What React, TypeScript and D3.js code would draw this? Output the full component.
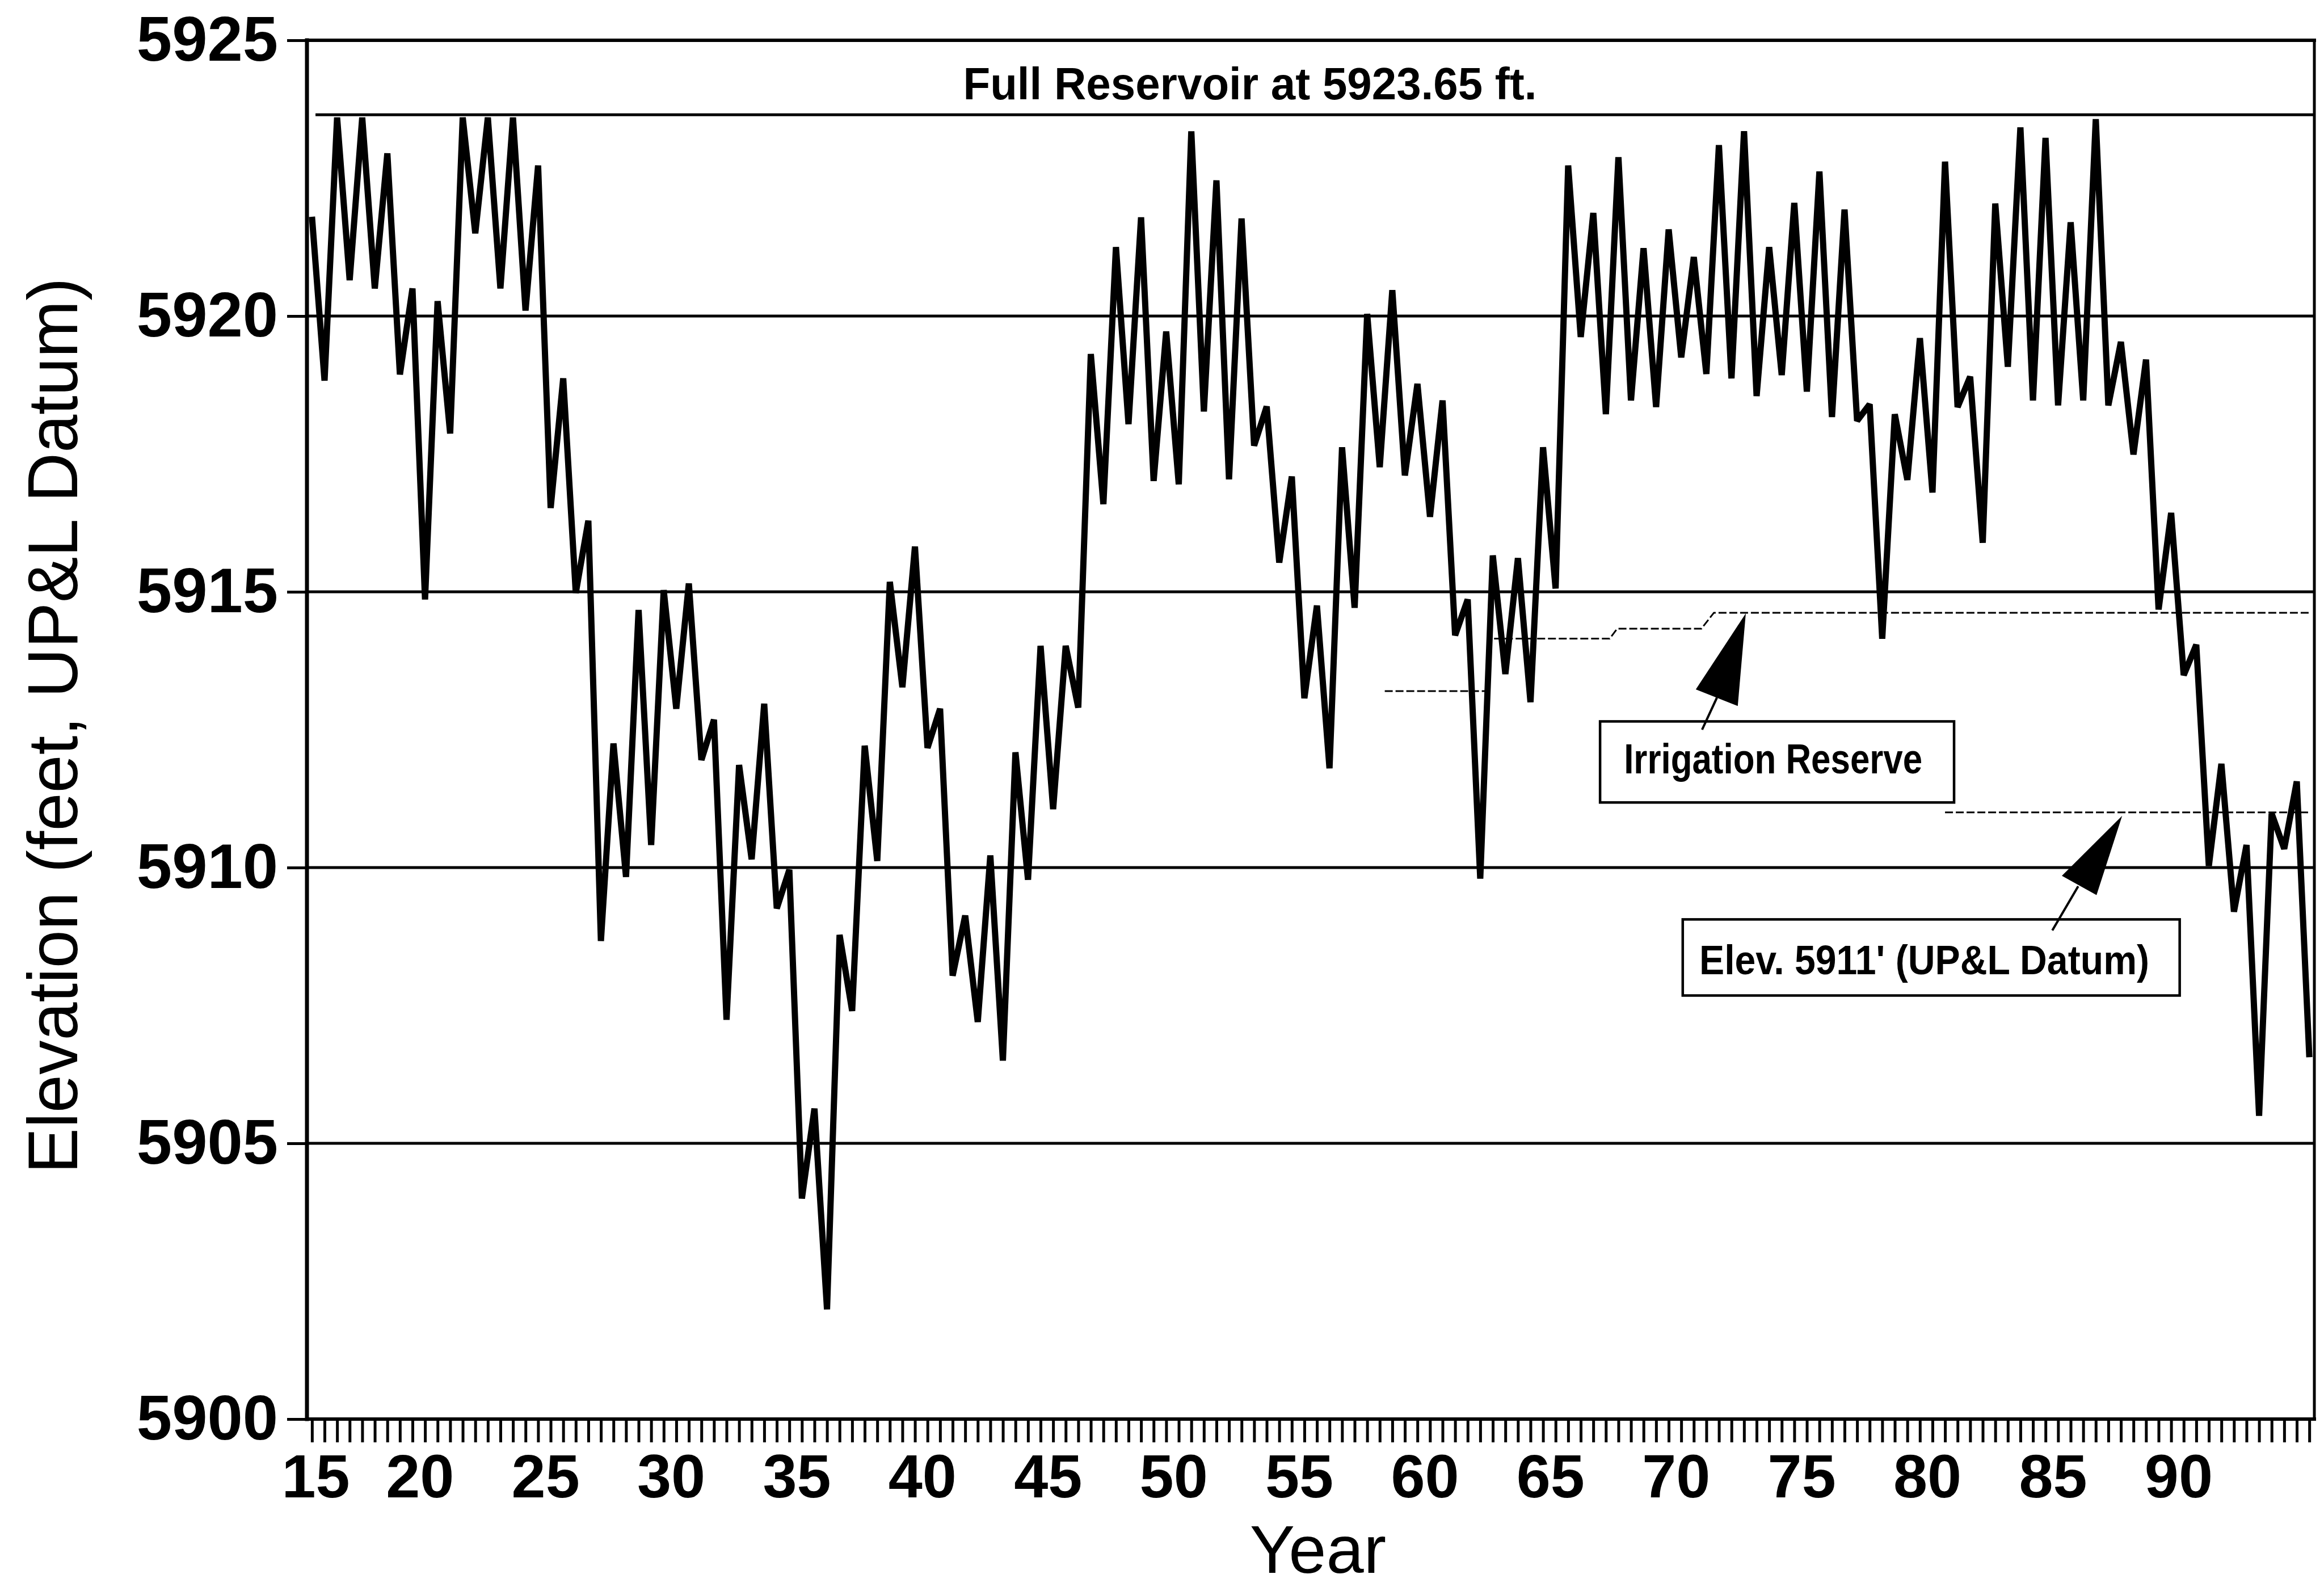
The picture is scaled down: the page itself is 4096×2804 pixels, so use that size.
import React, { useRef, useEffect } from "react";
import * as d3 from "d3";

// lake elevation, two readings a year (spring high / fall low), from 1915
const elevations = [
  5921.8, 5918.83, 5923.6, 5920.65, 5923.6, 5920.5, 5922.95, 5918.94, 5920.5, 5914.86,
  5920.27, 5917.87, 5923.6, 5921.5, 5923.6, 5920.5, 5923.6, 5920.1, 5922.73, 5916.52,
  5918.87, 5914.98, 5916.29, 5908.67, 5912.25, 5909.83, 5914.67, 5910.41, 5915.03, 5912.88,
  5915.15, 5911.95, 5912.68, 5907.24, 5911.86, 5910.15, 5912.97, 5909.26, 5909.96, 5904.0,
  5905.63, 5901.99, 5908.78, 5907.4, 5912.21, 5910.12, 5915.18, 5913.27, 5915.82, 5912.17,
  5912.88, 5908.04, 5909.13, 5907.2, 5910.22, 5906.5, 5912.09, 5909.78, 5914.02, 5911.06,
  5914.02, 5912.9, 5919.31, 5916.59, 5921.25, 5918.04, 5921.79, 5917.01, 5919.72, 5916.95,
  5923.35, 5918.27, 5922.46, 5917.04, 5921.77, 5917.65, 5918.36, 5915.53, 5917.09, 5913.07,
  5914.75, 5911.8, 5917.62, 5914.71, 5920.04, 5917.26, 5920.47, 5917.11, 5918.77, 5916.36,
  5918.47, 5914.21, 5914.86, 5909.8, 5915.66, 5913.51, 5915.61, 5913.0, 5917.62, 5915.06,
  5922.73, 5919.62, 5921.87, 5918.22, 5922.88, 5918.47, 5921.23, 5918.35, 5921.57, 5919.25,
  5921.07, 5918.95, 5923.1, 5918.87, 5923.35, 5918.55, 5921.25, 5918.93, 5922.05, 5918.63,
  5922.62, 5918.17, 5921.93, 5918.1, 5918.4, 5914.15, 5918.22, 5917.03, 5919.6, 5916.8,
  5922.8, 5918.35, 5918.9, 5915.89, 5922.04, 5919.08, 5923.42, 5918.47, 5923.23, 5918.38,
  5921.7, 5918.47, 5923.57, 5918.38, 5919.53, 5917.49, 5919.21, 5914.68, 5916.43, 5913.49,
  5914.04, 5910.03, 5911.88, 5909.2, 5910.41, 5905.5, 5910.98, 5910.34, 5911.56, 5906.56,
];
const firstYear = 1915;
const yearStep = 0.5;

const yearLabels = [15, 20, 25, 30, 35, 40, 45, 50, 55, 60, 65, 70, 75, 80, 85, 90];
const elevTicks = [5900, 5905, 5910, 5915, 5920, 5925];
const gridLevels = [5905, 5910, 5915, 5920];
const fullReservoir = 5923.65;

// irrigation reserve curve (dashed)
const irrigationYears = [1957.7, 1961.8, 1961.8, 1966.65, 1966.95, 1970.3, 1970.8, 1994.5];
const irrigationLevels = [5913.2, 5913.2, 5914.15, 5914.15, 5914.33, 5914.33, 5914.62, 5914.62];

// elev 5911' datum line (dashed)
const datumYears = [1980.0, 1994.45];
const datumLevel = 5911;

const width = 4096;
const height = 2804;
const font = "'Liberation Sans', Arial, Helvetica, sans-serif";

const App = () => {
  const wrapper = useRef(null);

  useEffect(() => {
    const root = d3.select(wrapper.current);
    root.selectAll("*").remove();

    const svg = root
      .append("svg")
      .attr("width", width)
      .attr("height", height)
      .style("display", "block");

    svg.append("rect").attr("width", width).attr("height", height).attr("fill", "white");

    const x = d3.scaleLinear().domain([1914.8, 1994.7]).range([541, 4079]);
    const y = d3.scaleLinear().domain([5900, 5925]).range([2501, 71]);
    const [left, right] = x.range();
    const [bottom, top] = y.range();

    // horizontal grid
    svg
      .selectAll(".grid")
      .data(gridLevels)
      .enter()
      .append("line")
      .attr("class", "grid")
      .attr("x1", left)
      .attr("x2", right)
      .attr("y1", (d) => y(d))
      .attr("y2", (d) => y(d))
      .attr("stroke", "black")
      .attr("stroke-width", 5);

    // full reservoir line
    svg
      .append("line")
      .attr("x1", x(1915.14))
      .attr("x2", right)
      .attr("y1", y(fullReservoir))
      .attr("y2", y(fullReservoir))
      .attr("stroke", "black")
      .attr("stroke-width", 5);

    svg
      .append("text")
      .text("Full Reservoir at 5923.65 ft.")
      .attr("x", 2203)
      .attr("y", y(fullReservoir) - 27)
      .attr("text-anchor", "middle")
      .attr("font-family", font)
      .attr("font-weight", "bold")
      .attr("font-size", 80)
      .attr("textLength", 1011)
      .attr("lengthAdjust", "spacingAndGlyphs");

    // dashed reference lines
    const dashLine = d3
      .line()
      .x((d) => x(d[0]))
      .y((d) => y(d[1]));

    svg
      .append("path")
      .attr("d", dashLine(irrigationYears.map((yr, i) => [yr, irrigationLevels[i]])))
      .attr("fill", "none")
      .attr("stroke", "black")
      .attr("stroke-width", 3)
      .attr("stroke-dasharray", "14 5");

    svg
      .append("path")
      .attr("d", dashLine(datumYears.map((yr) => [yr, datumLevel])))
      .attr("fill", "none")
      .attr("stroke", "black")
      .attr("stroke-width", 3)
      .attr("stroke-dasharray", "14 5");

    // data line
    const line = d3
      .line()
      .x((d, i) => x(firstYear + i * yearStep))
      .y((d) => y(d));

    svg
      .append("path")
      .attr("d", line(elevations))
      .attr("fill", "none")
      .attr("stroke", "black")
      .attr("stroke-width", 11)
      .attr("stroke-linejoin", "miter")
      .attr("stroke-miterlimit", 2.5);

    // annotation boxes with arrows
    const annotate = (box, label, tip, c1, c2, tailFrom, tailTo) => {
      svg
        .append("rect")
        .attr("x", x(box.x0))
        .attr("y", y(box.top))
        .attr("width", x(box.x1) - x(box.x0))
        .attr("height", y(box.bottom) - y(box.top))
        .attr("fill", "white")
        .attr("stroke", "black")
        .attr("stroke-width", 4.5);
      svg
        .append("text")
        .text(label.text)
        .attr("x", x(label.x))
        .attr("y", y(label.y))
        .attr("font-family", font)
        .attr("font-weight", "bold")
        .attr("font-size", label.size)
        .attr("textLength", label.len)
        .attr("lengthAdjust", "spacingAndGlyphs");
      svg
        .append("line")
        .attr("x1", x(tailFrom[0]))
        .attr("y1", y(tailFrom[1]))
        .attr("x2", x(tailTo[0]))
        .attr("y2", y(tailTo[1]))
        .attr("stroke", "black")
        .attr("stroke-width", 4);
      svg
        .append("path")
        .attr(
          "d",
          `M${x(tip[0])},${y(tip[1])}L${x(c1[0])},${y(c1[1])}L${x(c2[0])},${y(c2[1])}Z`
        )
        .attr("fill", "black");
    };

    annotate(
      { x0: 1966.27, x1: 1980.36, top: 5912.65, bottom: 5911.18 },
      { text: "Irrigation Reserve", x: 1967.22, y: 5911.71, size: 74, len: 526 },
      [1972.07, 5914.61],
      [1970.08, 5913.23],
      [1971.75, 5912.93],
      [1970.92, 5913.08],
      [1970.33, 5912.5]
    );

    annotate(
      { x0: 1969.56, x1: 1989.34, top: 5909.06, bottom: 5907.68 },
      { text: "Elev. 5911' (UP&L Datum)", x: 1970.22, y: 5908.07, size: 72, len: 793 },
      [1987.05, 5910.94],
      [1984.65, 5909.85],
      [1986.03, 5909.5],
      [1985.3, 5909.66],
      [1984.27, 5908.86]
    );

    // frame
    const frame = [
      [left, top, right, top, 6],
      [right, top, right, bottom, 5],
      [left, bottom, right, bottom, 6],
      [left, top, left, bottom, 7],
    ];
    svg
      .selectAll(".frame")
      .data(frame)
      .enter()
      .append("line")
      .attr("x1", (d) => d[0])
      .attr("y1", (d) => d[1])
      .attr("x2", (d) => d[2])
      .attr("y2", (d) => d[3])
      .attr("stroke", "black")
      .attr("stroke-width", (d) => d[4])
      .attr("stroke-linecap", "square");

    // y axis ticks and labels
    const yAxis = d3.axisLeft(y).tickValues(elevTicks).tickSize(35).tickPadding(16).tickFormat(d3.format("d"));
    const gy = svg.append("g").attr("transform", `translate(${left},0)`).call(yAxis);
    gy.select(".domain").remove();
    gy.selectAll(".tick line").attr("stroke", "black").attr("stroke-width", 5);
    gy.selectAll(".tick text")
      .attr("font-family", font)
      .attr("font-weight", "bold")
      .attr("font-size", 112)
      .attr("fill", "black");

    // x axis: a tick every half year
    const tickYears = elevations.map((d, i) => firstYear + i * yearStep);
    const xAxis = d3.axisBottom(x).tickValues(tickYears).tickSize(41).tickFormat("");
    const gx = svg.append("g").attr("transform", `translate(0,${bottom})`).call(xAxis);
    gx.select(".domain").remove();
    gx.selectAll(".tick line").attr("stroke", "black").attr("stroke-width", 5);

    svg
      .selectAll(".xlabel")
      .data(yearLabels)
      .enter()
      .append("text")
      .attr("class", "xlabel")
      .text((d) => d)
      .attr("x", (d) => x(Math.max(1900 + d - 0.7, 1915.15)))
      .attr("y", 2639)
      .attr("text-anchor", "middle")
      .attr("font-family", font)
      .attr("font-weight", "bold")
      .attr("font-size", 108);

    svg
      .append("text")
      .text("Year")
      .attr("x", (left + right) / 2 + 13)
      .attr("y", 2772)
      .attr("text-anchor", "middle")
      .attr("font-family", font)
      .attr("font-size", 119);

    svg
      .append("text")
      .text("Elevation (feet, UP&L Datum)")
      .attr("transform", "translate(136,1279) rotate(-90)")
      .attr("text-anchor", "middle")
      .attr("font-family", font)
      .attr("font-size", 124)
      .attr("textLength", 1579)
      .attr("lengthAdjust", "spacingAndGlyphs");
  }, []);

  return <div ref={wrapper} style={{ position: "absolute", left: 0, top: 0 }} />;
};

export default App;
